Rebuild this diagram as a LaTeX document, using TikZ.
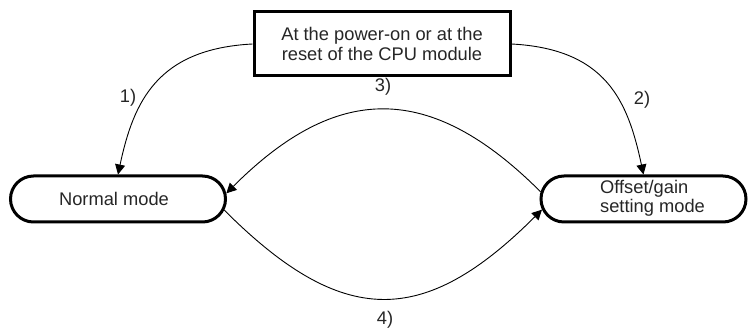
\documentclass[tikz,border=0pt]{standalone}
\usepackage{fontspec}
\setmainfont{Liberation Sans}
\usetikzlibrary{arrows.meta,shapes.misc}
\begin{document}
\begin{tikzpicture}[x=1pt,y=1pt,
  every node/.style={font=\fontsize{18.3}{20.5}\selectfont, text=black!85},
  topbox/.style={draw, line width=3pt, minimum width=256pt, minimum height=64pt, align=center, inner sep=0pt},
  modebox/.style={draw, rounded rectangle, line width=3pt, minimum height=46pt, align=left, inner sep=0pt},
  conn/.style={line width=0.9pt, -{Triangle[length=10pt,width=10pt]}},
  lbl/.style={inner sep=0pt}]
\useasboundingbox (0,0) rectangle (750,331);
\node[topbox] (top) at (382,287) {At the power-on or at the\\reset of the CPU module};
\node[modebox, minimum width=215pt] (normal) at (118,132) {Normal mode\hspace*{8pt}};
\node[modebox, minimum width=205pt] (offset) at (643.5,132) {\hspace*{18pt}\begin{tabular}{@{}l@{}}Offset/gain\\[-1pt]setting mode\end{tabular}};
\draw[conn] (top.west) .. controls +(183:95) and +(78:75) .. (normal.north);
\draw[conn] (top.east) .. controls +(-3:95) and +(102:75) .. (offset.north);
\draw[conn] (offset.176) to[out=135,in=45,looseness=1.27] (normal.3);
\draw[conn] (normal.-6) to[out=-45,in=-135,looseness=1.35] (offset.186);
\node[lbl] (l1) at (128,233) {1)};
\node[lbl] (l2) at (642,231) {2)};
\node[lbl] (l3) at (383,244) {3)};
\node[lbl] (l4) at (385,11) {4)};
\end{tikzpicture}
\end{document}
